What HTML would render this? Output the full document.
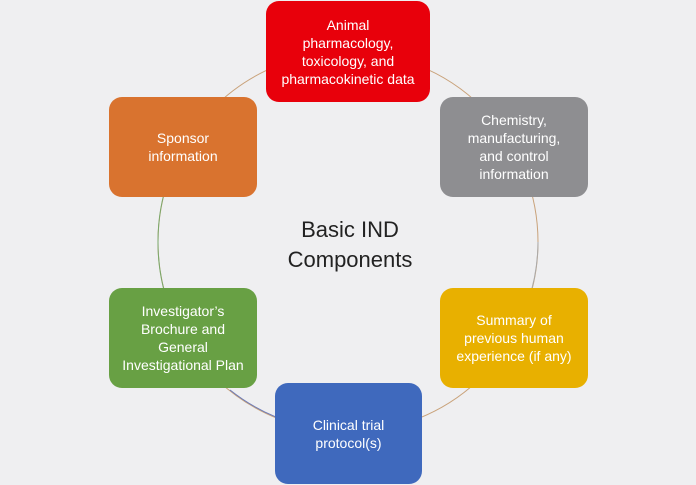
<!DOCTYPE html>
<html><head><style>
body{margin:0;width:696px;height:485px;background:#efeff1;position:relative;overflow:hidden;font-family:"Liberation Sans",sans-serif}
.b{position:absolute;border-radius:13px;color:#fff;display:flex;align-items:center;justify-content:center;text-align:center;font-size:14px;line-height:18px}
.c{position:absolute;left:250px;top:215px;width:200px;text-align:center;font-size:22px;line-height:30px;color:#222}
</style></head><body>
<svg width="696" height="485" style="position:absolute;left:0;top:0">
<circle cx="348" cy="242" r="190" fill="none" stroke="#c9a27a" stroke-width="1"/>
<path d="M158 242 A190 190 0 0 1 200 122" fill="none" stroke="#7aa86a" stroke-width="1"/>
<path d="M200 362 A190 190 0 0 1 158 242" fill="none" stroke="#7aa86a" stroke-width="1"/>
<path d="M230 390 A190 190 0 0 0 300 425" fill="none" stroke="#6a7ab8" stroke-width="1"/>
<path d="M538 242 A190 190 0 0 1 500 355" fill="none" stroke="#aaaaaa" stroke-width="1"/>
</svg>
<div class="b" style="left:266px;top:1px;width:164px;height:101px;background:#e8000b">Animal<br>pharmacology,<br>toxicology, and<br>pharmacokinetic data</div>
<div class="b" style="left:440px;top:97px;width:148px;height:100px;background:#8e8e91">Chemistry,<br>manufacturing,<br>and control<br>information</div>
<div class="b" style="left:440px;top:288px;width:148px;height:100px;background:#e8b000">Summary of<br>previous human<br>experience (if any)</div>
<div class="b" style="left:275px;top:383px;width:147px;height:101px;background:#3f69bd">Clinical trial<br>protocol(s)</div>
<div class="b" style="left:109px;top:288px;width:148px;height:100px;background:#68a044">Investigator’s<br>Brochure and<br>General<br>Investigational Plan</div>
<div class="b" style="left:109px;top:97px;width:148px;height:100px;background:#d9732f">Sponsor<br>information</div>
<div class="c">Basic IND<br>Components</div>
</body></html>
